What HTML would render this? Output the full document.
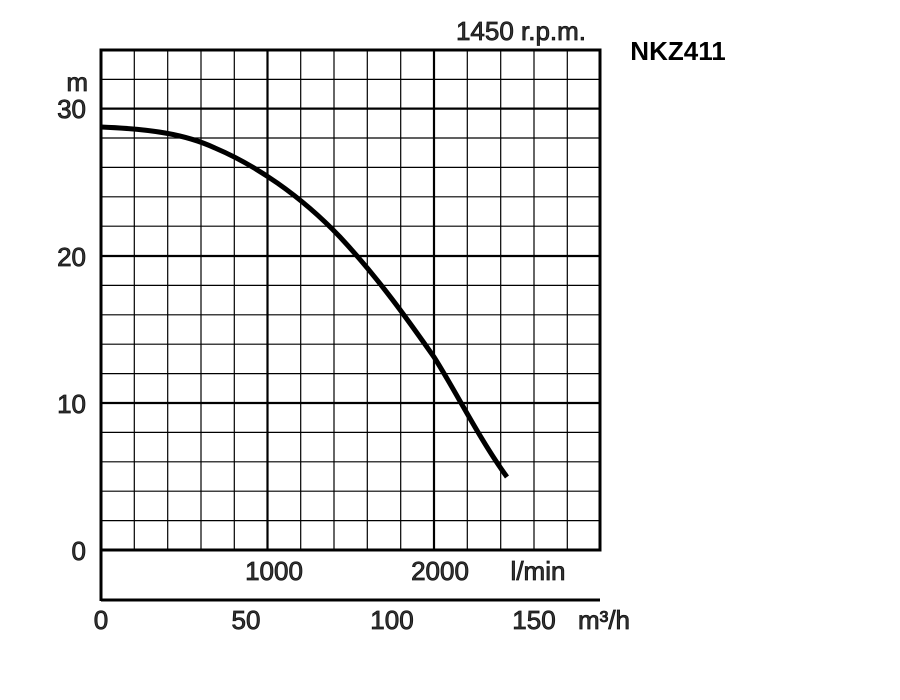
<!DOCTYPE html>
<html><head><style>body{margin:0;background:#fff}</style></head><body>
<svg width="900" height="700" xmlns="http://www.w3.org/2000/svg" style="display:block">
<g stroke="#000" stroke-width="1.2">
<line x1="134.3" y1="50" x2="134.3" y2="550"/><line x1="167.7" y1="50" x2="167.7" y2="550"/><line x1="201" y1="50" x2="201" y2="550"/><line x1="234.3" y1="50" x2="234.3" y2="550"/>
<line x1="300.7" y1="50" x2="300.7" y2="550"/><line x1="334" y1="50" x2="334" y2="550"/><line x1="367.3" y1="50" x2="367.3" y2="550"/><line x1="400.7" y1="50" x2="400.7" y2="550"/>
<line x1="467.3" y1="50" x2="467.3" y2="550"/><line x1="500.7" y1="50" x2="500.7" y2="550"/><line x1="534" y1="50" x2="534" y2="550"/><line x1="567.3" y1="50" x2="567.3" y2="550"/>
<line x1="101" y1="79.4" x2="600" y2="79.4"/><line x1="101" y1="138" x2="600" y2="138"/><line x1="101" y1="167.4" x2="600" y2="167.4"/><line x1="101" y1="196.8" x2="600" y2="196.8"/><line x1="101" y1="226.2" x2="600" y2="226.2"/>
<line x1="101" y1="285.4" x2="600" y2="285.4"/><line x1="101" y1="314.8" x2="600" y2="314.8"/><line x1="101" y1="344.2" x2="600" y2="344.2"/><line x1="101" y1="373.6" x2="600" y2="373.6"/>
<line x1="101" y1="432.4" x2="600" y2="432.4"/><line x1="101" y1="461.8" x2="600" y2="461.8"/><line x1="101" y1="491.2" x2="600" y2="491.2"/><line x1="101" y1="520.6" x2="600" y2="520.6"/>
</g>
<g stroke="#000" stroke-width="2.2">
<line x1="267.5" y1="50" x2="267.5" y2="550"/><line x1="434" y1="50" x2="434" y2="550"/>
<line x1="101" y1="108.6" x2="600" y2="108.6"/><line x1="101" y1="256" x2="600" y2="256"/><line x1="101" y1="403" x2="600" y2="403"/>
</g>
<g stroke="#000" stroke-width="3" fill="none">
<rect x="101" y="50" width="499" height="500"/>
<line x1="101" y1="550" x2="101" y2="601"/><line x1="101" y1="600" x2="600" y2="600"/>
</g>
<path d="M101,127 C150,129 185,134 215,148 C255,165 300,195 340,237 C380,280 410,323 434,357 C455,390 480,440 507,477" stroke="#000" stroke-width="5" fill="none"/>
<g font-family="Liberation Sans, sans-serif" font-size="26" fill="#333" stroke="#111" stroke-width="0.8">
<text x="88" y="91" text-anchor="end">m</text>
<text x="86" y="118" text-anchor="end">30</text>
<text x="86" y="266" text-anchor="end">20</text>
<text x="86" y="413" text-anchor="end">10</text>
<text x="86" y="560" text-anchor="end">0</text>
<text x="274" y="580" text-anchor="middle">1000</text>
<text x="440" y="580" text-anchor="middle">2000</text>
<text x="538" y="580" text-anchor="middle">l/min</text>
<text x="101" y="629" text-anchor="middle">0</text>
<text x="246" y="629" text-anchor="middle">50</text>
<text x="392" y="629" text-anchor="middle">100</text>
<text x="534" y="629" text-anchor="middle">150</text>
<text x="604" y="629" text-anchor="middle">m³/h</text>
<text x="521" y="40" text-anchor="middle">1450 r.p.m.</text>
</g>
<text x="678" y="60" text-anchor="middle" font-family="Liberation Sans, sans-serif" font-size="26" font-weight="bold" fill="#000">NKZ411</text>
</svg>
</body></html>
